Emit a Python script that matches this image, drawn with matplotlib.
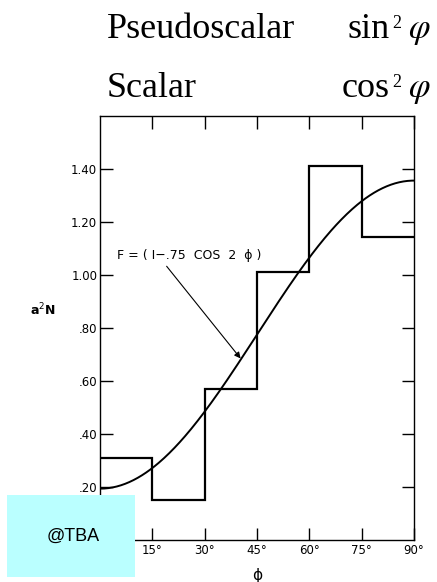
import numpy as np
import matplotlib
matplotlib.use("Agg")
import matplotlib.pyplot as plt
from matplotlib.patches import Rectangle

# Data
bin_edges = [0, 15, 30, 45, 60, 75, 90]
hist_values = [0.31, 0.15, 0.57, 1.01, 1.41, 1.145]
curve_scale = 0.775
curve_a = 0.75
yticks = [0.20, 0.40, 0.60, 0.80, 1.00, 1.20, 1.40]
ytick_labels = [".20", ".40", ".60", ".80", "1.00", "1.20", "1.40"]
xticks = [15, 30, 45, 60, 75, 90]
xtick_labels = ["15°", "30°", "45°", "60°", "75°", "90°"]
header_names = ["Pseudoscalar", "Scalar"]
header_funcs = ["sin", "cos"]

fig = plt.figure(figsize=(4.37, 5.82), dpi=100)
ax = fig.add_axes([100/437, 1-540/582, 314/437, 424/582])

# histogram as step
xs = np.repeat(bin_edges, 2)[1:-1]
ys = np.repeat(hist_values, 2)
ax.plot(xs, ys, color="black", lw=1.6, solid_joinstyle="miter")

phi = np.linspace(0, 90, 300)
F = curve_scale * (1 - curve_a * np.cos(2 * np.radians(phi)))
ax.plot(phi, F, color="black", lw=1.4)

ax.set_xlim(0, 90)
ax.set_ylim(0, 1.6)
ax.set_xticks(xticks)
ax.set_xticklabels(xtick_labels, fontsize=8.5, family="DejaVu Sans")
ax.set_yticks(yticks)
ax.set_yticklabels(ytick_labels, fontsize=8.5, family="DejaVu Sans")
ax.tick_params(direction="in", length=9, width=1, top=True, right=True, pad=3)
ax.tick_params(axis="y", pad=2)
for s in ax.spines.values():
    s.set_linewidth(1.0)

ax.set_xlabel("ϕ", fontsize=11, labelpad=8)
fig.text(43/437, 1-310/582, "a$^2$N", fontsize=9, weight="bold", ha="center", va="center",
         family="DejaVu Sans")

ax.text(5, 1.05, "F = ( I\u2212.75  COS  2  ϕ )", fontsize=9, family="DejaVu Sans",
        ha="left", va="bottom")
ax.annotate("", xy=(40.3, 0.685), xytext=(19.1, 1.033),
            arrowprops=dict(arrowstyle="-|>", color="black", lw=0.8,
                            shrinkA=0, shrinkB=0, mutation_scale=9))

baselines = [38, 97]
for name, func, yb in zip(header_names, header_funcs, baselines):
    fy = 1 - yb / 582
    fig.text(107/437, fy, name, fontsize=26, family="Liberation Serif", va="baseline", ha="left")
    fig.text(390/437, fy, func, fontsize=26, family="Liberation Serif", va="baseline", ha="right")
    fig.text(392/437, 1 - (yb - 10) / 582, "2", fontsize=13, family="Liberation Serif",
             va="baseline", ha="left")
    fig.text(431/437, fy, r"$\varphi$", fontsize=25, math_fontfamily="stix", va="baseline", ha="right")

fig.patches.append(Rectangle((7/437, 1-577/582), 128/437, 82/582, transform=fig.transFigure,
                             facecolor="#baffff", edgecolor="none", zorder=10))
fig.text(73/437, 1-536/582, "@TBA", fontsize=13, family="Liberation Sans", ha="center", va="center", zorder=11)

fig.savefig("out.png", dpi=100)
